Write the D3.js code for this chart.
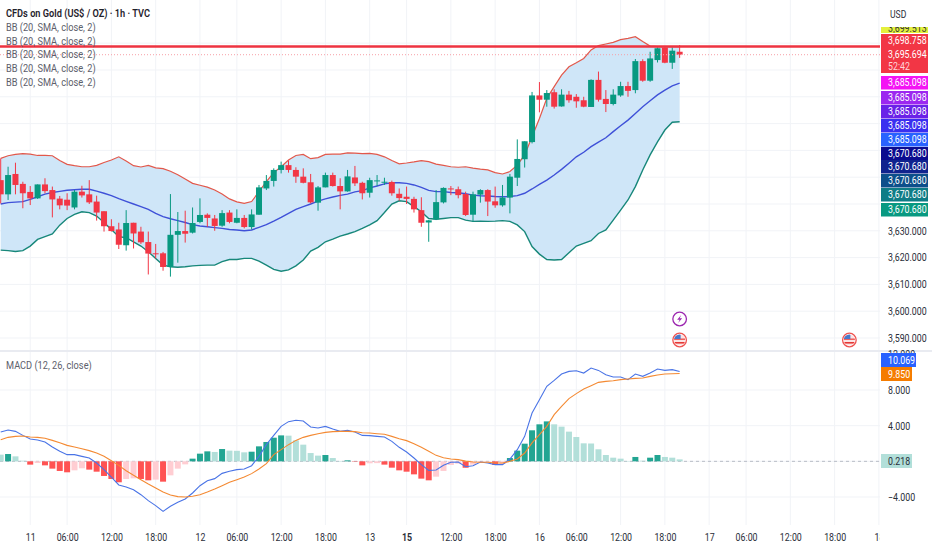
<!DOCTYPE html>
<html>
<head>
<meta charset="utf-8">
<script src="https://cdn.jsdelivr.net/npm/d3@7"></script>
<style>
  body { margin: 0; background: #fff; }
  svg { display: block; }
  text { font-family: Roboto, sans-serif; }
  .legend { font-size: 11px; fill: #5d606b; }
  .axis text { font-size: 10.5px; fill: #2a2e39; }
  .axis path, .axis line { display: none; }
  .grid { stroke: #f1f3f7; stroke-width: 1; }
  .pricetag { font-size: 10.5px; }
</style>
</head>
<body>
<div class="chart"></div>
<script>
const opens = [3648.9,3643.6,3651.2,3647.5,3644.5,3642.1,3647.3,3645.2,3642.0,3641.6,3638.7,3644.6,3643.6,3640.9,3637.3,3631.7,3630.5,3624.6,3633.0,3629.7,3625.8,3621.6,3621.6,3616.5,3628.5,3629.9,3629.3,3633.3,3636.0,3634.6,3631.9,3636.8,3633.0,3634.8,3631.4,3636.0,3645.8,3648.6,3652.7,3654.5,3652.7,3650.2,3648.1,3640.5,3646.2,3650.8,3646.7,3644.7,3649.9,3647.9,3644.2,3648.6,3648.1,3648.2,3643.8,3642.7,3641.9,3637.7,3633.1,3634.3,3640.6,3645.8,3645.5,3643.7,3636.0,3643.5,3645.2,3641.0,3639.5,3642.4,3649.8,3656.7,3663.1,3680.5,3678.9,3681.7,3676.4,3680.8,3680.0,3678.7,3676.2,3686.3,3679.2,3677.3,3680.5,3684.0,3682.5,3693.3,3686.0,3693.7,3698.4,3692.7,3696.8];
const highs = [3657.0,3653.9,3655.4,3648.3,3646.7,3647.3,3649.6,3646.5,3643.0,3644.0,3645.2,3646.8,3648.9,3643.1,3637.3,3634.3,3633.0,3637.7,3633.0,3631.5,3629.7,3625.1,3622.1,3643.7,3637.0,3637.5,3638.7,3642.1,3636.5,3635.9,3637.7,3637.7,3638.0,3635.9,3638.0,3647.1,3650.8,3653.3,3655.8,3656.2,3653.7,3653.3,3651.2,3646.7,3651.7,3651.7,3649.6,3652.7,3654.2,3648.3,3649.8,3650.8,3649.8,3648.7,3645.8,3646.5,3642.7,3642.5,3634.0,3645.2,3646.2,3646.7,3646.5,3644.6,3644.6,3645.5,3645.5,3646.5,3647.1,3651.2,3664.1,3663.4,3681.8,3685.5,3682.5,3682.8,3682.8,3682.2,3681.0,3680.0,3686.5,3689.4,3682.5,3682.8,3685.6,3685.6,3694.1,3694.0,3696.8,3698.4,3698.9,3698.4,3699.3];
const lows = [3640.2,3641.5,3643.6,3638.4,3639.6,3641.9,3644.0,3635.0,3638.0,3637.7,3638.0,3642.4,3640.0,3633.8,3629.7,3629.7,3623.2,3622.6,3623.4,3625.1,3613.7,3619.7,3615.1,3612.9,3618.1,3625.6,3629.0,3632.8,3631.5,3630.0,3631.5,3632.8,3632.8,3630.9,3630.5,3636.0,3645.2,3646.5,3651.4,3651.7,3647.9,3647.7,3640.2,3637.5,3646.2,3646.5,3638.0,3644.6,3646.7,3641.7,3642.4,3646.7,3647.1,3643.1,3641.2,3640.0,3636.8,3631.5,3625.9,3634.0,3640.2,3643.3,3642.1,3635.5,3633.4,3640.5,3635.5,3638.6,3639.0,3636.5,3646.7,3653.6,3662.6,3674.2,3676.3,3675.6,3676.3,3677.8,3675.9,3676.1,3676.2,3678.2,3674.3,3676.8,3680.0,3680.0,3681.3,3685.6,3685.6,3692.8,3692.5,3690.4,3694.5];
const closes = [3643.6,3650.8,3647.1,3644.0,3642.1,3647.3,3644.8,3641.7,3639.5,3639.4,3644.6,3643.2,3640.6,3636.8,3631.7,3629.9,3624.8,3632.9,3629.0,3625.7,3621.5,3621.3,3616.5,3628.5,3629.9,3628.9,3632.9,3635.9,3634.8,3631.8,3636.6,3633.3,3634.8,3631.4,3636.1,3646.2,3648.6,3652.7,3654.5,3652.7,3650.2,3647.9,3640.6,3646.2,3650.8,3646.7,3644.7,3650.3,3647.7,3644.0,3648.9,3648.8,3648.3,3644.0,3642.2,3641.9,3638.0,3633.0,3633.9,3640.7,3646.0,3645.5,3643.3,3635.9,3643.6,3645.2,3640.9,3639.5,3642.4,3650.2,3656.8,3663.4,3680.5,3678.9,3681.4,3676.3,3680.8,3678.7,3678.3,3676.3,3686.3,3678.9,3677.3,3680.8,3684.0,3682.2,3693.3,3686.0,3694.3,3698.1,3692.7,3697.2,3695.7];

const bbUpper = [3657.0,3658.0,3658.5,3658.8,3658.6,3658.1,3658.1,3658.0,3656.2,3654.8,3654.3,3653.9,3653.9,3654.4,3655.5,3656.4,3657.6,3656.0,3654.3,3653.8,3654.4,3653.5,3653.2,3652.2,3650.9,3649.3,3647.7,3647.0,3646.3,3645.2,3643.7,3641.9,3640.8,3640.2,3640.9,3644.6,3648.3,3651.7,3653.9,3656.4,3658.1,3658.5,3656.9,3657.3,3658.5,3658.6,3658.6,3659.1,3659.0,3658.8,3658.9,3658.5,3657.6,3656.2,3655.0,3655.3,3655.7,3656.2,3655.8,3654.9,3654.4,3653.9,3653.7,3653.9,3653.4,3653.0,3652.7,3651.7,3651.2,3652.1,3654.5,3658.3,3665.1,3671.9,3679.4,3683.8,3688.1,3691.2,3692.7,3694.3,3697.5,3699.1,3699.7,3700.3,3701.3,3701.8,3702.4,3700.6,3698.9,3698.7,3698.7,3698.7,3698.7];
const bbBasis = [3640.0,3640.5,3640.7,3640.9,3641.7,3642.7,3643.7,3644.3,3644.7,3645.1,3645.3,3645.5,3645.5,3644.8,3644.0,3643.1,3642.0,3641.0,3640.0,3639.0,3638.0,3636.5,3635.3,3634.5,3633.8,3633.1,3632.3,3631.8,3631.5,3631.2,3630.9,3630.5,3630.3,3630.0,3630.3,3631.3,3632.3,3633.6,3635.0,3636.5,3638.0,3639.0,3640.0,3641.1,3641.9,3642.6,3643.2,3643.7,3644.5,3645.0,3646.0,3646.7,3647.5,3647.9,3647.9,3647.7,3647.1,3646.2,3645.1,3644.6,3644.6,3644.3,3644.2,3643.8,3643.3,3643.1,3643.0,3642.8,3642.7,3642.8,3643.1,3644.0,3645.6,3647.3,3648.9,3650.8,3652.9,3655.2,3657.6,3659.3,3661.4,3663.1,3664.7,3667.0,3669.2,3671.3,3673.8,3676.3,3678.5,3680.7,3682.5,3684.1,3685.1];
const bbLower = [3622.8,3622.6,3622.3,3622.6,3624.3,3626.8,3627.8,3628.8,3632.1,3634.6,3636.1,3637.1,3636.8,3635.5,3633.1,3630.5,3627.8,3627.4,3625.9,3624.3,3622.2,3619.7,3617.2,3616.6,3616.4,3616.6,3616.9,3617.1,3617.2,3617.2,3618.5,3619.3,3619.3,3619.7,3619.7,3618.7,3617.2,3615.6,3614.9,3615.4,3616.9,3619.1,3622.4,3623.8,3625.9,3626.9,3628.0,3628.8,3629.7,3630.9,3632.2,3633.8,3636.8,3640.0,3641.2,3640.9,3639.0,3637.1,3634.6,3634.3,3634.6,3634.9,3634.9,3634.0,3633.5,3633.6,3633.5,3633.6,3633.8,3633.5,3632.2,3629.7,3624.1,3621.3,3619.3,3619.1,3619.3,3621.8,3624.3,3625.3,3626.3,3629.0,3630.3,3634.0,3637.7,3641.5,3646.5,3652.7,3658.3,3663.2,3667.6,3670.5,3670.7];

const macdLine = [3.29,3.51,3.36,2.91,2.50,2.39,2.17,1.61,1.12,0.75,0.75,0.56,0.37,-0.19,-0.93,-1.76,-2.65,-2.88,-3.18,-3.74,-4.41,-4.97,-5.61,-5.04,-4.60,-4.22,-3.55,-2.73,-2.17,-1.94,-1.35,-1.12,-0.93,-0.86,-0.49,0.56,1.87,2.91,3.92,4.45,4.60,4.52,3.85,3.74,3.92,3.62,3.36,3.48,3.29,2.91,2.88,2.80,2.73,2.24,1.57,1.05,0.37,-0.37,-1.01,-0.97,-0.45,-0.11,-0.07,-0.60,-0.49,-0.07,-0.19,-0.37,-0.37,0.26,1.31,2.80,5.42,6.91,8.41,9.08,9.79,10.09,10.16,9.90,10.46,10.20,9.72,9.45,9.45,9.16,9.79,9.53,9.90,10.35,10.20,10.28,10.07];
const signalLine = [2.43,2.69,2.80,2.84,2.73,2.69,2.58,2.35,2.09,1.79,1.61,1.42,1.20,0.93,0.56,0.07,-0.45,-1.05,-1.57,-2.06,-2.54,-2.99,-3.44,-3.77,-3.96,-4.00,-3.92,-3.74,-3.44,-3.10,-2.73,-2.35,-2.06,-1.76,-1.38,-0.86,-0.26,0.75,1.31,1.87,2.35,2.69,2.91,3.10,3.25,3.33,3.36,3.36,3.33,3.21,3.18,3.10,3.03,2.80,2.54,2.32,1.98,1.57,1.12,0.67,0.41,0.26,0.19,0.02,-0.07,-0.11,-0.11,-0.19,-0.19,0.00,0.26,0.93,2.06,2.99,3.92,5.23,6.17,7.03,7.59,8.11,8.48,8.86,8.97,9.04,9.16,9.23,9.30,9.34,9.53,9.68,9.79,9.83,9.85];
const histogram = [0.75,0.82,0.56,0.07,-0.37,-0.19,-0.45,-0.82,-1.08,-1.23,-1.01,-0.78,-0.93,-1.16,-1.64,-1.98,-2.35,-1.98,-1.91,-1.98,-2.13,-2.05,-2.28,-1.57,-0.82,-0.34,0.30,0.86,1.12,1.05,1.38,1.20,1.18,1.01,1.08,1.68,2.17,2.65,2.91,2.88,2.35,1.87,0.93,0.64,0.71,0.37,0.04,0.11,-0.04,-0.45,-0.22,-0.20,-0.37,-0.71,-1.01,-1.16,-1.46,-1.94,-2.13,-1.72,-1.08,-0.41,-0.26,-0.72,-0.37,-0.07,-0.05,-0.41,-0.30,0.37,1.20,1.98,3.48,4.15,4.48,4.15,3.89,3.33,2.73,2.02,2.00,1.35,0.71,0.41,0.30,0.04,0.49,0.07,0.41,0.71,0.49,0.41,0.218];

// bar number -> label on the time axis
const timeBars = [4,9,15,21,27,32,38,44,50,55,61,67,73,78,84,90,96,101,107,113,119];
const timeLabels = ["11","06:00","12:00","18:00","12","06:00","12:00","18:00","13","15","12:00","18:00","16","06:00","12:00","18:00","17","06:00","12:00","18:00","18"];

const priceTicks = [3590,3600,3610,3620,3630];
const priceGrid = [3590,3600,3610,3620,3630,3640,3650,3660,3670,3680,3690,3700];
const macdTicks = [-4,0,4,8,12];

const highLine = 3698.758;
const lastPrice = 3695.694;
const hiddenTag = 3699.513;
const bbTags = [3685.098,3685.098,3685.098,3685.098,3685.098,3670.68,3670.68,3670.68,3670.68,3670.68];
const bbTagColors = ["#f413f4","#9c27f0","#6a22e8","#3a2ff0","#2962ff","#0b0b8f","#10238e","#0d4f8b","#0e7c86","#089981"];
const indicatorNames = ["BB (20, SMA, close, 2)","BB (20, SMA, close, 2)","BB (20, SMA, close, 2)","BB (20, SMA, close, 2)","BB (20, SMA, close, 2)"];
const eventBars = { lightning: [92], flag: [92, 115] };

const up = "#089981", down = "#f23645";
const plotW = 880, sepY = 351;

const svg = d3.select(".chart").append("svg").attr("width", 932).attr("height", 550);

const x = d3.scaleLinear().domain([0, 119]).range([0.7, 878.9]);
const y = d3.scaleLinear().domain([3590, highLine]).range([338, 46.5]);
const yM = d3.scaleLinear().domain([-4, 8]).range([497, 390]);

// the chart's font is narrower than anything installed, so squeeze the text
function narrow(sel, k = 0.84) {
  sel.attr("transform", function () {
    const x0 = +this.getAttribute("x") || 0;
    return `translate(${x0},0) scale(${k},1) translate(${-x0},0)`;
  });
}

const defs = svg.append("defs");
defs.append("clipPath").attr("id", "pricePane").append("rect").attr("width", plotW).attr("height", sepY);
defs.append("clipPath").attr("id", "macdPane").append("rect").attr("y", sepY).attr("width", plotW).attr("height", 175);
defs.append("clipPath").attr("id", "timePane").append("rect").attr("x", 0).attr("y", -20).attr("width", plotW).attr("height", 60);
defs.append("clipPath").attr("id", "yellowTag").append("rect").attr("x", 881).attr("y", 27).attr("width", 60).attr("height", 6);
defs.append("clipPath").attr("id", "flagCircle").append("circle").attr("r", 5.6);

// grid
svg.append("g").selectAll("line").data(timeBars).join("line").attr("class", "grid")
  .attr("x1", (d) => x(d)).attr("x2", (d) => x(d)).attr("y1", 0).attr("y2", 525);
svg.append("g").attr("clip-path", "url(#pricePane)").selectAll("line").data(priceGrid).join("line").attr("class", "grid")
  .attr("x1", 0).attr("x2", plotW).attr("y1", (d) => y(d)).attr("y2", (d) => y(d));
svg.append("g").selectAll("line").data(macdTicks.slice(0, 4)).join("line").attr("class", "grid")
  .attr("x1", 0).attr("x2", plotW).attr("y1", (d) => yM(d)).attr("y2", (d) => yM(d));

// price pane
const price = svg.append("g").attr("clip-path", "url(#pricePane)");

const bandArea = d3.area().x((d, i) => x(i)).y0((d, i) => y(bbLower[i])).y1((d) => y(d));
price.append("path").datum(bbUpper).attr("d", bandArea).attr("fill", "#cfe6f8");

const bandLine = d3.line().x((d, i) => x(i)).y((d) => y(d));
price.append("path").datum(bbUpper).attr("d", bandLine).attr("fill", "none").attr("stroke", "#e2584b").attr("stroke-width", 1.2);
price.append("path").datum(bbBasis).attr("d", bandLine).attr("fill", "none").attr("stroke", "#3f51d8").attr("stroke-width", 1.4);
price.append("path").datum(bbLower).attr("d", bandLine).attr("fill", "none").attr("stroke", "#17877a").attr("stroke-width", 1.4);

const candles = price.selectAll(".candle").data(d3.range(opens.length)).join("g").attr("class", "candle");
candles.append("line")
  .attr("x1", (i) => x(i)).attr("x2", (i) => x(i))
  .attr("y1", (i) => y(highs[i])).attr("y2", (i) => y(lows[i]))
  .attr("stroke", (i) => (closes[i] >= opens[i] ? up : down));
candles.append("rect")
  .attr("x", (i) => x(i) - 3)
  .attr("width", 6)
  .attr("y", (i) => y(Math.max(opens[i], closes[i])))
  .attr("height", (i) => Math.max(1, Math.abs(y(opens[i]) - y(closes[i]))))
  .attr("fill", (i) => (closes[i] >= opens[i] ? up : down));

price.append("line").attr("x1", 0).attr("x2", plotW).attr("y1", y(highLine)).attr("y2", y(highLine))
  .attr("stroke", "#ee3340").attr("stroke-width", 2.6);
price.append("line").attr("x1", 0).attr("x2", plotW).attr("y1", y(lastPrice)).attr("y2", y(lastPrice))
  .attr("stroke", "#f7a0a8").attr("stroke-dasharray", "1 2");

// event markers
eventBars.lightning.forEach((b) => {
  const g = svg.append("g").attr("transform", `translate(${x(b)},319)`);
  g.append("circle").attr("r", 6.8).attr("fill", "#fff").attr("stroke", "#9c27b0").attr("stroke-width", 1.3);
  g.append("path").attr("d", "M1.5,-4 L-2.5,0.8 L0,0.8 L-1.5,4 L2.5,-0.8 L0,-0.8 Z").attr("fill", "#9c27b0");
});
eventBars.flag.forEach((b) => {
  const g = svg.append("g").attr("transform", `translate(${x(b)},340)`);
  g.append("circle").attr("r", 6.8).attr("fill", "#fff").attr("stroke", "#ef5350").attr("stroke-width", 1.3);
  const f = g.append("g").attr("clip-path", "url(#flagCircle)");
  f.append("rect").attr("x", -6).attr("y", -6).attr("width", 12).attr("height", 12).attr("fill", "#fbe3e3");
  f.append("rect").attr("x", -6).attr("y", 2).attr("width", 12).attr("height", 1.6).attr("fill", "#e53935");
  f.append("rect").attr("x", -6).attr("y", -1.5).attr("width", 12).attr("height", 1.4).attr("fill", "#ef5350");
  f.append("rect").attr("x", -6).attr("y", -6).attr("width", 7).attr("height", 5).attr("fill", "#4a78c8");
});

// macd pane
const macd = svg.append("g").attr("clip-path", "url(#macdPane)");
macd.append("line").attr("x1", 0).attr("x2", plotW).attr("y1", yM(0)).attr("y2", yM(0))
  .attr("stroke", "#b8bcc6").attr("stroke-dasharray", "3 3");

const histColor = (d, i) => {
  const prev = i ? histogram[i - 1] : d + (d > 0 ? 1 : -1);
  if (d >= 0) return d >= prev ? "#22a592" : "#b2dfd9";
  return d <= prev ? "#ff5252" : "#ffcdd2";
};
macd.selectAll(".hist").data(histogram).join("rect").attr("class", "hist")
  .attr("x", (d, i) => x(i) - 3)
  .attr("width", 6)
  .attr("y", (d) => Math.min(yM(d), yM(0)))
  .attr("height", (d) => Math.abs(yM(d) - yM(0)))
  .attr("fill", histColor);

const macdPath = d3.line().x((d, i) => x(i)).y((d) => yM(d));
macd.append("path").datum(macdLine).attr("d", macdPath).attr("fill", "none").attr("stroke", "#4a74e6").attr("stroke-width", 1.1);
macd.append("path").datum(signalLine).attr("d", macdPath).attr("fill", "none").attr("stroke", "#f48a33").attr("stroke-width", 1.1);

// pane separator
svg.append("rect").attr("x", 0).attr("y", sepY - 1).attr("width", 932).attr("height", 2).attr("fill", "#e9ebf1");

// axes
const timeAxis = d3.axisBottom(x).tickValues(timeBars).tickSize(0).tickPadding(0)
  .tickFormat((d, i) => timeLabels[i]);
const timeG = svg.append("g").attr("class", "axis").attr("clip-path", "url(#timePane)")
  .attr("transform", "translate(0,534)").call(timeAxis);
timeG.selectAll("text").attr("font-weight", (d, i) => (timeLabels[i] === "15" ? "bold" : null));
narrow(timeG.selectAll("text"));

const priceAxisG = svg.append("g").attr("class", "axis").attr("transform", "translate(888,0)")
  .call(d3.axisRight(y).tickValues(priceTicks).tickSize(0).tickPadding(0).tickFormat(d3.format(",.3f")));
const macdAxisG = svg.append("g").attr("class", "axis").attr("transform", "translate(888,0)")
  .call(d3.axisRight(yM).tickValues(macdTicks).tickSize(0).tickPadding(0).tickFormat(d3.format(".3f")));
narrow(priceAxisG.selectAll("text"));
narrow(macdAxisG.selectAll("text"));

// price tags on the right scale
const fmt = d3.format(",.3f");
function tag(top, h, w, fill, label, color) {
  svg.append("rect").attr("x", 881).attr("y", top).attr("width", w).attr("height", h).attr("fill", fill);
  if (label) svg.append("text").attr("class", "pricetag").attr("x", 888).attr("y", top + h / 2 + 3.7).attr("fill", color).text(label);
}
svg.append("rect").attr("x", 881).attr("y", 27).attr("width", 47).attr("height", 6).attr("fill", "#e4f03c");
svg.append("text").attr("class", "pricetag").attr("clip-path", "url(#yellowTag)")
  .attr("x", 888).attr("y", 32).attr("fill", "#333").text(fmt(hiddenTag));
tag(34, 39, 47, "#f23645");
svg.append("text").attr("class", "pricetag").attr("x", 888).attr("y", 44).attr("fill", "#fff").text(fmt(highLine));
svg.append("text").attr("class", "pricetag").attr("x", 888).attr("y", 58).attr("fill", "#fff").text(fmt(lastPrice));
svg.append("text").attr("class", "pricetag").attr("x", 888).attr("y", 70).attr("fill", "#ffd5d8").text("52:42");

const tagTops = [76, 91, 105, 119, 133, 147, 160, 174, 188, 203];
bbTags.forEach((v, i) => tag(tagTops[i], 13.5, 47, bbTagColors[i], fmt(v), "#fff"));

tag(353, 14, 35, "#2962ff", "10.069", "#fff");
tag(367, 14, 31, "#f57c00", "9.850", "#fff");
tag(454, 14, 31, "#b2dfd9", "0.218", "#2a2e39");
narrow(svg.selectAll(".pricetag"));

svg.append("text").attr("x", 890).attr("y", 18)
  .style("font-size", "11px").attr("fill", "#2a2e39").text("USD").call(narrow, 0.78);

// legends
svg.append("text").attr("class", "legend").attr("x", 6).attr("y", 17)
  .style("font-weight", 600).style("fill", "#1f222b").text("CFDs on Gold (US$ / OZ) · 1h · TVC");
svg.append("g").selectAll("text").data(indicatorNames).join("text").attr("class", "legend")
  .attr("x", 6).attr("y", (d, i) => 31 + i * 13.7).text((d) => d);
svg.append("text").attr("class", "legend").attr("x", 6).attr("y", 369).text("MACD (12, 26, close)");
narrow(svg.selectAll(".legend"));
</script>
</body>
</html>
